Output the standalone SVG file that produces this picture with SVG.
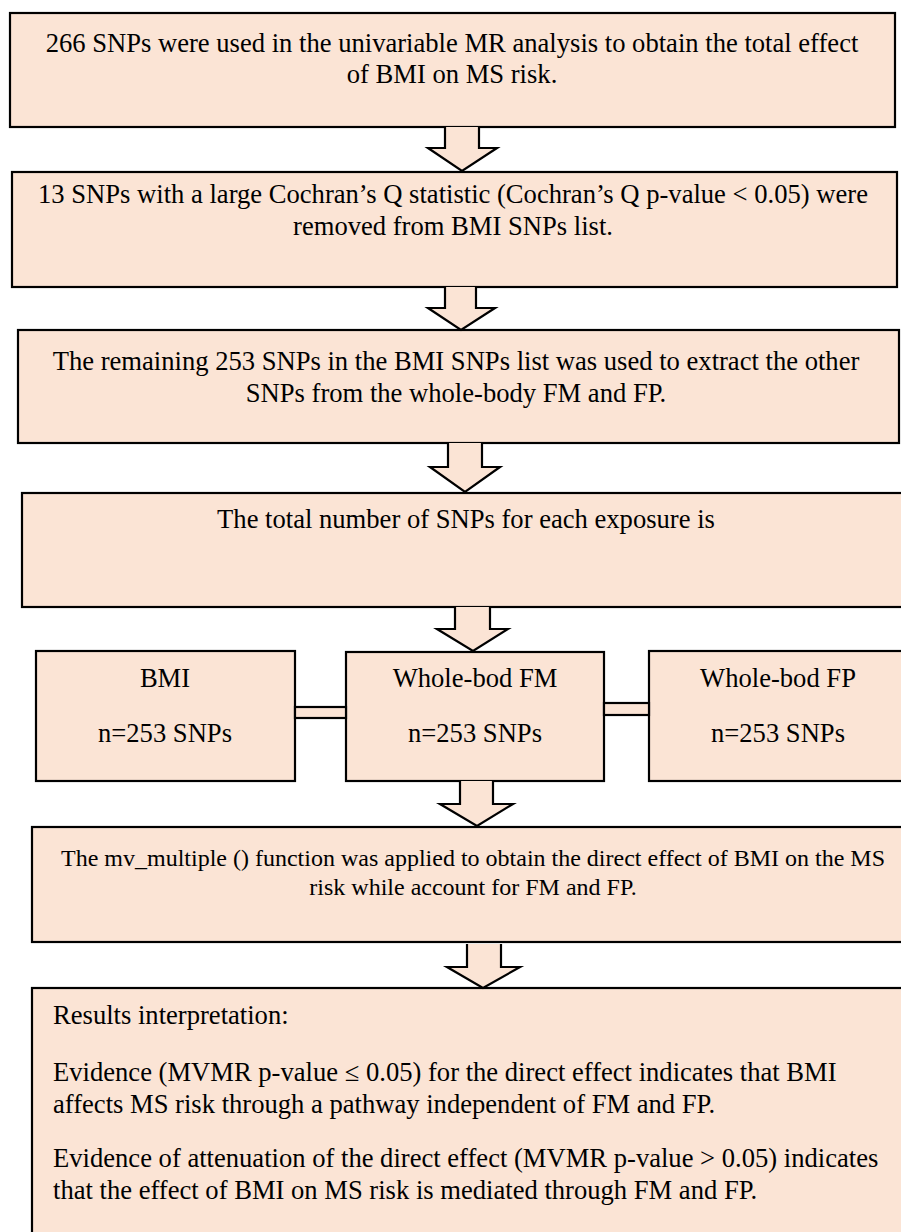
<svg xmlns="http://www.w3.org/2000/svg" width="901" height="1232" viewBox="0 0 901 1232" font-family="Liberation Serif, DejaVu Serif, serif">
  <style>
    .box { fill: #FBE4D5; stroke: #000; stroke-width: 2.2; }
    .arrow { fill: #FBE4D5; stroke: #000; stroke-width: 2.2; stroke-linejoin: miter; }
    text { font-family: 'Liberation Serif', 'DejaVu Serif', serif; font-size: 26.6px; fill: #000; }
    .c { text-anchor: middle; }
    .s { font-size: 24px; }
  </style>
  <rect width="901" height="1232" fill="#fff"/>

  <g id="step1">
    <rect class="box" x="10" y="13" width="885" height="114"/>
    <text class="c" x="452" y="52">266 SNPs were used in the univariable MR analysis to obtain the total effect</text>
    <text class="c" x="452" y="83">of BMI on MS risk.</text>
  </g>

  <g id="step2">
    <rect class="box" x="12" y="172" width="885" height="115"/>
    <text class="c" x="453" y="203">13 SNPs with a large Cochran’s Q statistic (Cochran’s Q p-value &lt; 0.05) were</text>
    <text class="c" x="453" y="235">removed from BMI SNPs list.</text>
  </g>

  <g id="step3">
    <rect class="box" x="18" y="330" width="881" height="113"/>
    <text class="c" x="456" y="370">The remaining 253 SNPs in the BMI SNPs list was used to extract the other</text>
    <text class="c" x="456" y="402">SNPs from the whole-body FM and FP.</text>
  </g>

  <g id="step4">
    <rect class="box" x="22" y="493" width="890" height="114"/>
    <text class="c" x="466" y="528">The total number of SNPs for each exposure is</text>
  </g>

  <g id="bmi">
    <rect class="box" x="36" y="651" width="259" height="130"/>
    <text class="c" x="165" y="687">BMI</text>
    <text class="c" x="165" y="742">n=253 SNPs</text>
  </g>

  <g id="fm">
    <rect class="box" x="346" y="652" width="258" height="129"/>
    <text class="c" x="475" y="687">Whole-bod FM</text>
    <text class="c" x="475" y="742">n=253 SNPs</text>
  </g>

  <g id="fp">
    <rect class="box" x="649" y="651" width="263" height="130"/>
    <text class="c" x="778" y="687">Whole-bod FP</text>
    <text class="c" x="778" y="742">n=253 SNPs</text>
  </g>

  <g id="step6">
    <rect class="box" x="32" y="827" width="882" height="115"/>
    <text class="c s" x="473" y="866">The mv_multiple () function was applied to obtain the direct effect of BMI on the MS</text>
    <text class="c s" x="473" y="895">risk while account for FM and FP.</text>
  </g>

  <g id="results">
    <rect class="box" x="32" y="988" width="882" height="260"/>
    <text x="53" y="1024">Results interpretation:</text>
    <text x="53" y="1081">Evidence (MVMR p-value ≤ 0.05) for the direct effect indicates that BMI</text>
    <text x="53" y="1113">affects MS risk through a pathway independent of FM and FP.</text>
    <text x="53" y="1167">Evidence of attenuation of the direct effect (MVMR p-value &gt; 0.05) indicates</text>
    <text x="53" y="1199">that the effect of BMI on MS risk is mediated through FM and FP.</text>
  </g>

  <g id="connectors">
    <!-- block arrows between steps -->
    <path class="arrow" d="M445,127 L445,148 L428,148 L462,171 L497,148 L479,148 L479,127"/>
    <path class="arrow" d="M445,287 L445,308 L428,308 L461,330 L495,308 L476,308 L476,287"/>
    <path class="arrow" d="M448,443 L448,467 L430,467 L465,492 L500,467 L482,467 L482,443"/>
    <path class="arrow" d="M455,607 L455,629 L437,629 L473,651 L508,629 L490,629 L490,607"/>
    <path class="arrow" d="M460,781 L460,804 L440,804 L477,826 L513,804 L493,804 L493,781"/>
    <path class="arrow" d="M467,944 L467,967 L447,967 L483,988 L520,967 L501,967 L501,944"/>
    <!-- links between exposure boxes -->
    <rect class="arrow" x="295" y="707" width="51" height="11"/>
    <rect class="arrow" x="604" y="703" width="45" height="12"/>
  </g>
</svg>
